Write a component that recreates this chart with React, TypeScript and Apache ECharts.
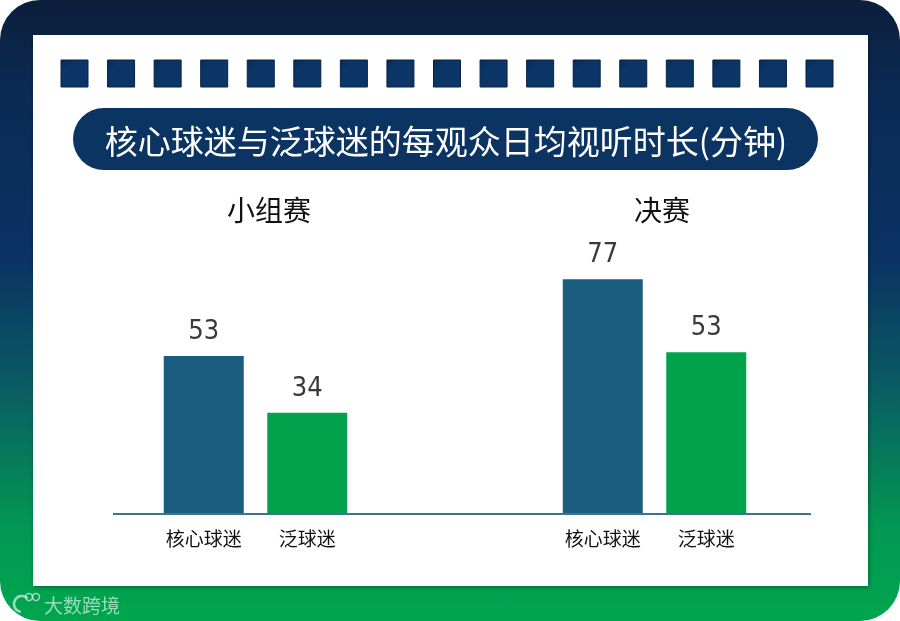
import React, { useEffect, useRef } from "react";
import * as echarts from "echarts";

const chartTitle = "核心球迷与泛球迷的每观众日均视听时长(分钟)";
const groupNames = ["小组赛", "决赛"];
const categories = ["核心球迷", "泛球迷"];
const groupStageValues = [53, 34];
const finalValues = [77, 53];
const barColors = ["#1a5d7f", "#00a24c"];

export default function App() {
  const ref = useRef<HTMLDivElement>(null);

  useEffect(() => {
    if (!ref.current) return;
    const chart = echarts.init(ref.current, null, { renderer: "svg" });

    const squares: any[] = [];
    const n = 17;
    const x0 = 61;
    const step = (806 - 61) / (n - 1);
    for (let i = 0; i < n; i++) {
      squares.push({
        type: "rect",
        shape: { x: x0 + i * step, y: 60, width: 27, height: 27 },
        style: {
          fill: new echarts.graphic.LinearGradient(0, 0, 1, 1, [
            { offset: 0, color: "#082a54" },
            { offset: 0.25, color: "#0b3566" },
            { offset: 1, color: "#0b3666" },
          ]),
          stroke: "#072246",
          lineWidth: 1,
        },
        z: 2,
      });
    }

    const mkData = (vals: number[]) =>
      vals.map((v, i) => ({ value: v, itemStyle: { color: barColors[i] } }));

    const label = {
      show: true,
      position: "top",
      distance: 13,
      fontSize: 27,
      fontFamily: "DejaVu Sans Condensed",
      color: "#3a3a3a",
    };

    const axisLabel = {
      fontSize: 19,
      color: "#111",
      margin: 14,
      interval: 0,
      fontFamily: "Noto Sans CJK SC",
    };

    const subTitleStyle = {
      fontSize: 28,
      fontWeight: "normal",
      color: "#111",
      fontFamily: "Noto Sans CJK SC",
    };

    const option: any = {
      animation: false,
      title: [
        { text: groupNames[0], left: 264, top: 190, textAlign: "center", textStyle: subTitleStyle },
        { text: groupNames[1], left: 657, top: 190, textAlign: "center", textStyle: subTitleStyle },
      ],
      grid: [
        { left: 152, width: 207, top: 514 - 298, height: 298 },
        { left: 551, width: 207, top: 514 - 305, height: 305 },
      ],
      xAxis: [0, 1].map((g) => ({
        gridIndex: g,
        type: "category",
        data: categories,
        axisLine: { show: false },
        axisTick: { show: false },
        axisLabel,
      })),
      yAxis: [0, 1].map((g) => ({
        gridIndex: g,
        type: "value",
        min: 0,
        max: 100,
        show: false,
        splitLine: { show: false },
      })),
      series: [
        {
          type: "bar",
          xAxisIndex: 0,
          yAxisIndex: 0,
          barWidth: 80,
          data: mkData(groupStageValues),
          label,
          z: 5,
        },
        {
          type: "bar",
          xAxisIndex: 1,
          yAxisIndex: 1,
          barWidth: 80,
          data: mkData(finalValues),
          label,
          z: 5,
        },
      ],
      graphic: [
        {
          type: "rect",
          shape: { x: 0, y: 0, width: 900, height: 621, r: 40 },
          style: {
            fill: new echarts.graphic.LinearGradient(0, 0, 0, 1, [
              { offset: 0, color: "#0b1f3b" },
              { offset: 0.15, color: "#0b2a55" },
              { offset: 0.42, color: "#0a3364" },
              { offset: 0.62, color: "#0a5b63" },
              { offset: 0.85, color: "#029852" },
              { offset: 1, color: "#00a54e" },
            ]),
          },
          z: -10,
          silent: true,
        },
        {
          type: "rect",
          shape: { x: 33, y: 35, width: 835, height: 551 },
          style: {
            fill: "#ffffff",
            shadowBlur: 4,
            shadowColor: "rgba(0,0,0,0.35)",
            shadowOffsetX: 1,
            shadowOffsetY: 1,
          },
          z: -9,
          silent: true,
        },
        ...squares,
        {
          type: "rect",
          shape: { x: 73, y: 108, width: 745, height: 62, r: 31 },
          style: { fill: "#0b3462" },
          z: 2,
        },
        {
          type: "text",
          x: 446,
          y: 140,
          style: {
            text: chartTitle,
            fill: "#ffffff",
            fontSize: 33,
            fontFamily: "Noto Sans CJK SC",
            align: "center",
            verticalAlign: "middle",
          },
          z: 3,
        },
        {
          type: "line",
          shape: { x1: 113, y1: 514, x2: 811, y2: 514 },
          style: { stroke: "#3c7391", lineWidth: 2 },
          z: 6,
        },
        {
          type: "arc",
          shape: { cx: 22, cy: 604, r: 8, startAngle: Math.PI * 0.55, endAngle: Math.PI * 1.75 },
          style: { stroke: "rgba(255,255,255,0.6)", lineWidth: 2.5, fill: "none" },
          z: 3,
        },
        {
          type: "circle",
          shape: { cx: 29, cy: 597, r: 3.5 },
          style: { stroke: "rgba(255,255,255,0.6)", lineWidth: 1.5, fill: "none" },
          z: 3,
        },
        {
          type: "circle",
          shape: { cx: 36, cy: 597, r: 3.5 },
          style: { stroke: "rgba(255,255,255,0.6)", lineWidth: 1.5, fill: "none" },
          z: 3,
        },
        {
          type: "text",
          x: 44,
          y: 604,
          style: {
            text: "大数跨境",
            fill: "rgba(255,255,255,0.6)",
            fontSize: 19,
            fontFamily: "Noto Sans CJK SC",
            align: "left",
            verticalAlign: "middle",
          },
          z: 3,
        },
      ],
    };

    chart.setOption(option);
    return () => chart.dispose();
  }, []);

  return (
    <div
      ref={ref}
      style={{ position: "fixed", left: 0, top: 0, width: 900, height: 621 }}
    />
  );
}
